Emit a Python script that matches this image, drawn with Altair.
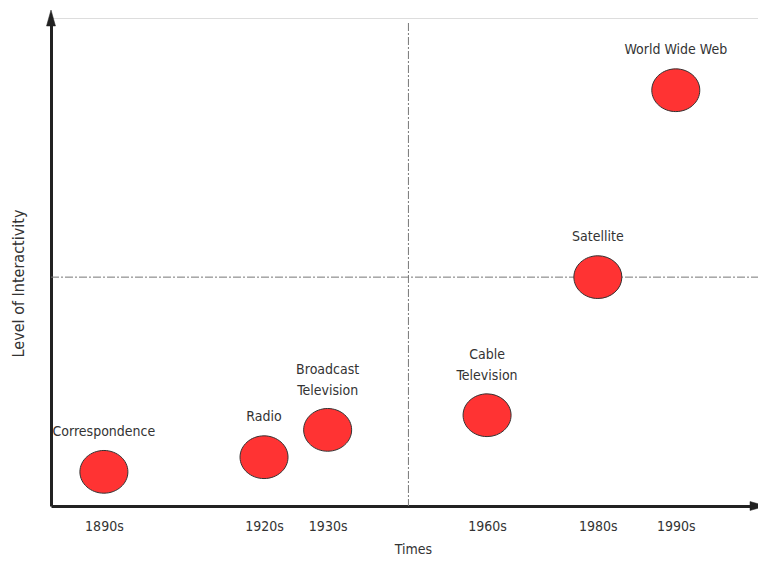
import altair as alt
import pandas as pd

# Data
media = ["Correspondence", "Radio", "Broadcast\nTelevision", "Cable\nTelevision", "Satellite", "World Wide Web"]
eras = ["1890s", "1920s", "1930s", "1960s", "1980s", "1990s"]
time_pos = [7.4, 29.8, 38.7, 61.0, 76.5, 87.4]      # position along the time axis (0-100)
interactivity = [7.0, 10.0, 15.6, 18.6, 46.9, 85.2]  # level of interactivity (0-100)
mid_time = [50.0]
mid_level = [46.9]

X_MAX = 98.9
Y_MAX = 100.0
FONT = "DejaVu Sans Condensed, Liberation Sans, sans-serif"

df = pd.DataFrame({"media": media, "era": eras, "t": time_pos, "level": interactivity})

label_expr = " : ".join(f"datum.value == {v} ? '{e}'" for v, e in zip(time_pos, eras)) + " : ''"

xscale = alt.Scale(domain=[0, X_MAX], nice=False, zero=False)
yscale = alt.Scale(domain=[0, Y_MAX], nice=False, zero=False)

base = alt.Chart(df)

ellipse_path = "M-1,0 A1,0.89 0 1,0 1,0 A1,0.89 0 1,0 -1,0 Z"

points = base.mark_point(
    shape=ellipse_path, filled=True, fill="#FF3333", stroke="#333333",
    strokeWidth=1, opacity=1, size=48 * 48
).encode(
    x=alt.X("t:Q", scale=xscale, axis=alt.Axis(
        values=time_pos, labelExpr=label_expr, title="Times",
        ticks=False, grid=False, domainWidth=3, domainColor="#222222",
        labelFont=FONT, labelFontSize=14, labelColor="#333333", labelPadding=13,
        titleFont=FONT, titleFontSize=14, titleFontWeight="normal", titleColor="#333333",
        titleX=362, titleY=43, titleBaseline="middle", titleAlign="center",
    )),
    y=alt.Y("level:Q", scale=yscale, axis=alt.Axis(
        values=[], labels=False, ticks=False, grid=False,
        domainWidth=3, domainColor="#222222", title="Level of Interactivity",
        titleFont=FONT, titleFontSize=16, titleFontWeight="normal", titleColor="#333333",
        titleX=-33, titleY=265, titleAngle=-90, titleBaseline="middle", titleAlign="center",
    )),
)

single = base.transform_filter("indexof(datum.media, '\\n') < 0").mark_text(
    font=FONT, fontSize=14, color="#333333", baseline="bottom", dy=-33, align="center"
).encode(x=alt.X("t:Q", scale=xscale), y=alt.Y("level:Q", scale=yscale), text="media:N")

double = base.transform_filter("indexof(datum.media, '\\n') >= 0").mark_text(
    font=FONT, fontSize=14, color="#333333", baseline="bottom", dy=-53, align="center",
    lineBreak="\n", lineHeight=21
).encode(x=alt.X("t:Q", scale=xscale), y=alt.Y("level:Q", scale=yscale), text="media:N")

vline = alt.Chart(pd.DataFrame({"t": mid_time})).mark_rule(
    color="#777777", strokeWidth=1, strokeDash=[8, 2, 2, 2]
).encode(x=alt.X("t:Q", scale=xscale), y=alt.value(5), y2=alt.value(488))

hline = alt.Chart(pd.DataFrame({"level": mid_level})).mark_rule(
    color="#777777", strokeWidth=1, strokeDash=[8, 2, 2, 2]
).encode(y=alt.Y("level:Q", scale=yscale), x=alt.value(0), x2=alt.value(720))

arrow_up = alt.Chart(pd.DataFrame({"t": [0.0], "level": [Y_MAX]})).mark_point(
    shape="M0,-1 L0.56,1 L-0.56,1 Z", filled=True, fill="#222222", stroke="#222222",
    strokeWidth=0.5, opacity=1, size=256
).encode(x=alt.X("t:Q", scale=xscale), y=alt.Y("level:Q", scale=yscale))

arrow_right = alt.Chart(pd.DataFrame({"t": [X_MAX], "level": [0.0]})).mark_point(
    shape="M1,0 L-1,0.56 L-1,-0.56 Z", filled=True, fill="#222222", stroke="#222222",
    strokeWidth=0.5, opacity=1, size=256
).encode(x=alt.X("t:Q", scale=xscale), y=alt.Y("level:Q", scale=yscale))

chart = alt.layer(hline, vline, points, single, double, arrow_up, arrow_right).properties(
    width=707, height=488,
    autosize=alt.AutoSizeParams(type="none"),
    padding={"left": 43, "top": 10, "right": 0, "bottom": 49},
).configure_view(stroke=None).configure(background="white")

chart.save("out.html", embed_options={"renderer": "svg", "actions": False})
